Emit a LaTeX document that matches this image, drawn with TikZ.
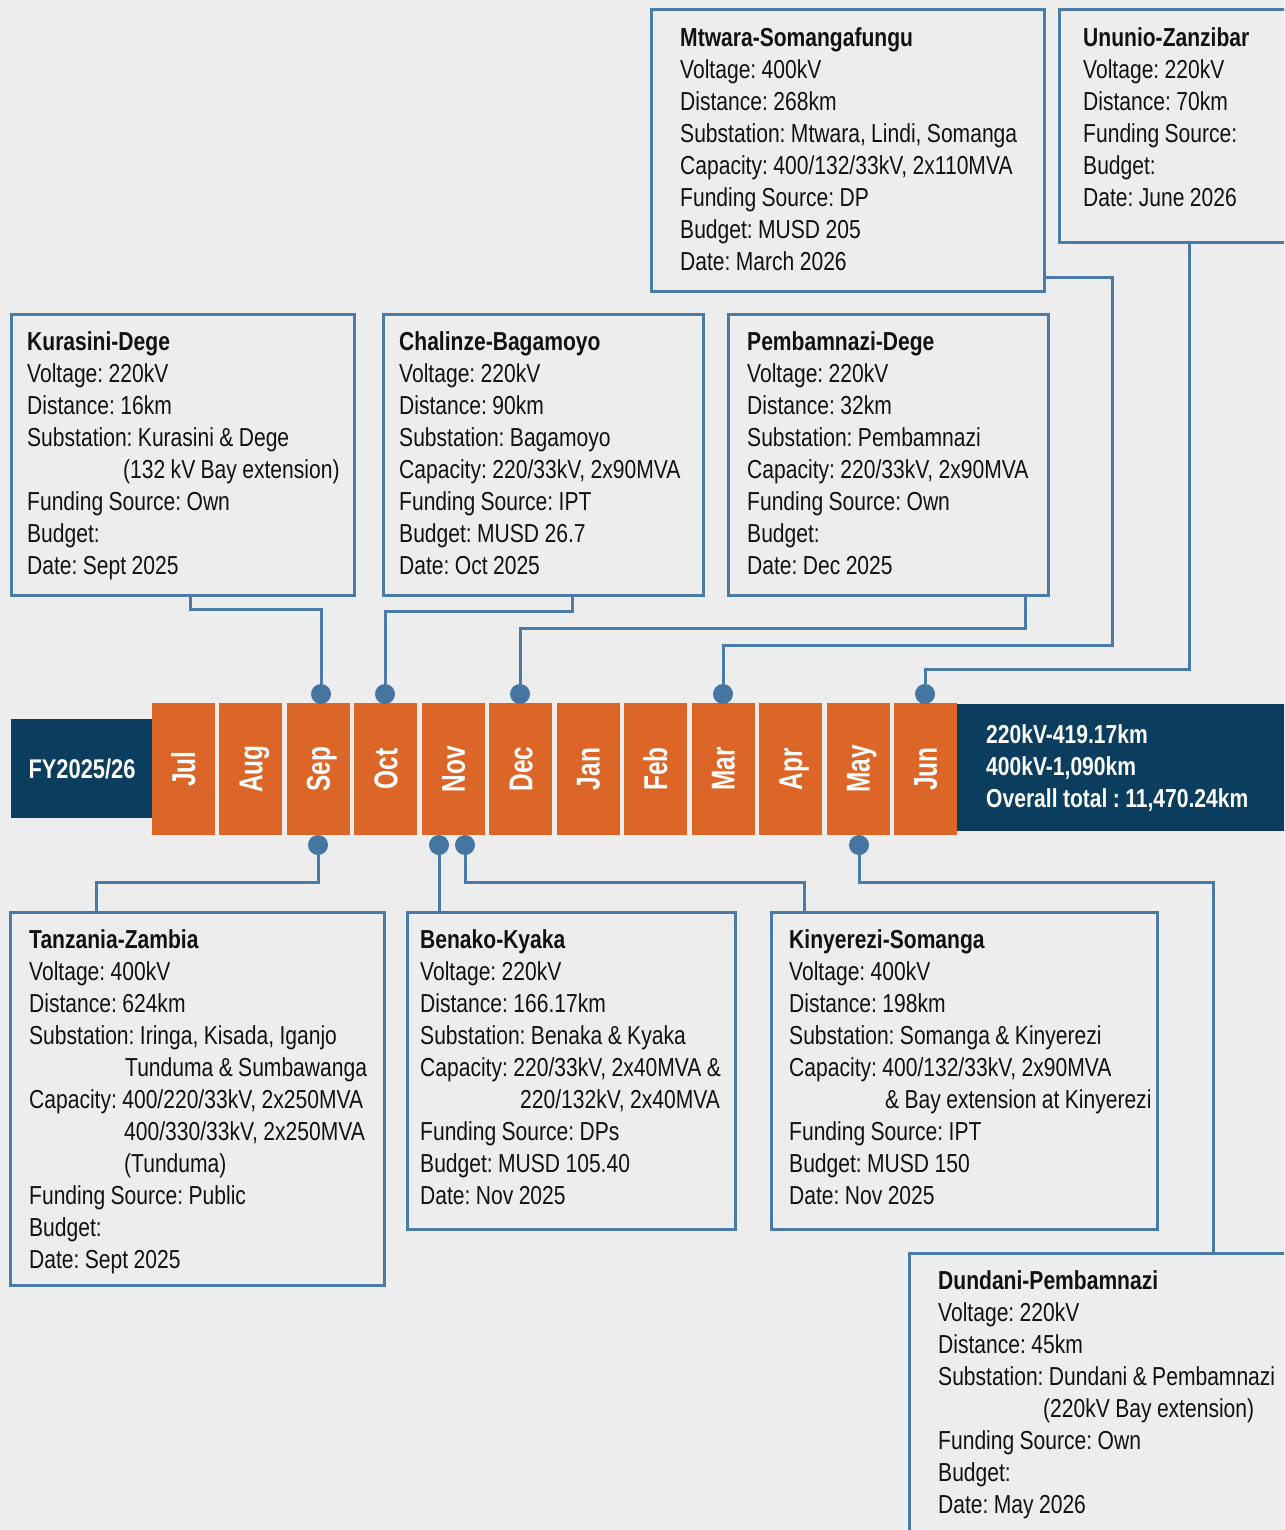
\documentclass[tikz,border=0pt]{standalone}
\usepackage{fontspec}
\setmainfont{Liberation Sans}[FakeStretch=0.81]
\newfontfamily\monthfont{Liberation Sans}[FakeStretch=0.74]
\usetikzlibrary{calc}
\definecolor{bgc}{HTML}{EDEDED}
\definecolor{linec}{HTML}{4A7BA7}
\definecolor{dotc}{HTML}{4576A2}
\definecolor{navyc}{HTML}{0B3D5E}
\definecolor{orc}{HTML}{DC6628}
\definecolor{txtc}{HTML}{111111}
\newcommand{\bodyfont}{\frenchspacing\fontsize{26}{32}\selectfont}
\newcommand{\narrowsp}{\spaceskip=5.4pt plus 1pt minus 1pt\relax\xspaceskip=5.4pt plus 1pt minus 1pt\relax}
\begin{document}
\begin{tikzpicture}[x=1pt,y=-1pt,
  box/.style={draw=linec, line width=3pt, fill=bgc, rectangle, inner sep=0pt, outer sep=0pt, anchor=north west},
  txt/.style={anchor=north west, inner sep=0pt, text width=420pt, align=left, text=txtc, font=\bodyfont, execute at begin node=\narrowsp},
  month/.style={fill=orc, minimum width=132pt, minimum height=63pt, inner sep=0pt, outer sep=0pt, rotate=90, text=white, text height=23pt, text depth=0pt, font=\monthfont\bfseries\fontsize{33}{33}\selectfont},
  dot/.style={circle, fill=dotc, minimum size=20pt, inner sep=0pt, outer sep=0pt},
  conn/.style={draw=linec, line width=3pt}]
\useasboundingbox (0,0) rectangle (1284,1530);
\begin{scope}
\clip (0,0) rectangle (1284,1530);
\fill[bgc] (0,0) rectangle (1284,1530);

% timeline
\node[fill=navyc, minimum width=142pt, minimum height=99pt, inner sep=0pt, outer sep=0pt, anchor=north west] (fy) at (11,719) {};
\node[text=white, font=\bfseries\fontsize{27}{27}\selectfont] (fyt) at (82,769) {FY2025/26};
\node[fill=navyc, minimum width=340pt, minimum height=127pt, inner sep=0pt, outer sep=0pt, anchor=north west] (tot) at (957,704) {};
\node[anchor=north west, inner sep=0pt, text width=320pt, align=left, text=white, font=\bodyfont\bfseries, execute at begin node=\narrowsp] (tott) at (986,720.6) {\strut 220kV-419.17km\\400kV-1,090km\\Overall total : 11,470.24km};

\node[month] (mJul) at (183.5,769) {Jul};
\node[month] (mAug) at (250.95,769) {Aug};
\node[month] (mSep) at (318.4,769) {Sep};
\node[month] (mOct) at (385.85,769) {Oct};
\node[month] (mNov) at (453.3,769) {Nov};
\node[month] (mDec) at (520.75,769) {Dec};
\node[month] (mJan) at (588.2,769) {Jan};
\node[month] (mFeb) at (655.65,769) {Feb};
\node[month] (mMar) at (723.1,769) {Mar};
\node[month] (mApr) at (790.55,769) {Apr};
\node[month] (mMay) at (858,769) {May};
\node[month] (mJun) at (925.45,769) {Jun};

% dots
\node[dot] (dSepT) at (321,694) {};
\node[dot] (dOct) at (385,694) {};
\node[dot] (dDec) at (520,694) {};
\node[dot] (dMar) at (723,694) {};
\node[dot] (dJun) at (925,694) {};
\node[dot] (dSepB) at (318,845) {};
\node[dot] (dNovA) at (439,845) {};
\node[dot] (dNovB) at (465,845) {};
\node[dot] (dMay) at (859,845) {};

% top boxes
\node[box, minimum width=343pt, minimum height=281pt] (kur) at (11,314) {};
\node[txt] (kurt) at (27,327.6) {\strut\textbf{Kurasini-Dege}\\Voltage: 220kV\\Distance: 16km\\Substation: Kurasini \& Dege\\\hspace*{96pt}(132 kV Bay extension)\\Funding Source: Own\\Budget:\\Date: Sept 2025};

\node[box, minimum width=320pt, minimum height=281pt] (cha) at (383,314) {};
\node[txt] (chat) at (399,327.6) {\strut\textbf{Chalinze-Bagamoyo}\\Voltage: 220kV\\Distance: 90km\\Substation: Bagamoyo\\Capacity: 220/33kV, 2x90MVA\\Funding Source: IPT\\Budget: MUSD 26.7\\Date: Oct 2025};

\node[box, minimum width=320pt, minimum height=281pt] (pem) at (728,314) {};
\node[txt] (pemt) at (747,327.6) {\strut\textbf{Pembamnazi-Dege}\\Voltage: 220kV\\Distance: 32km\\Substation: Pembamnazi\\Capacity: 220/33kV, 2x90MVA\\Funding Source: Own\\Budget:\\Date: Dec 2025};

\node[box, minimum width=393pt, minimum height=281pt] (mtw) at (651,10) {};
\node[txt] (mtwt) at (680,23.6) {\strut\textbf{Mtwara-Somangafungu}\\Voltage: 400kV\\Distance: 268km\\Substation: Mtwara, Lindi, Somanga\\Capacity: 400/132/33kV, 2x110MVA\\Funding Source: DP\\Budget: MUSD 205\\Date: March 2026};

\node[box, minimum width=240pt, minimum height=233pt] (unu) at (1059,10) {};
\node[txt] (unut) at (1083,24.1) {\strut\textbf{Ununio-Zanzibar}\\Voltage: 220kV\\Distance: 70km\\Funding Source:\\Budget:\\Date: June 2026};

% bottom boxes
\node[box, minimum width=374pt, minimum height=373pt] (tz) at (10,912) {};
\node[txt] (tzt) at (29,925.6) {\strut\textbf{Tanzania-Zambia}\\Voltage: 400kV\\Distance: 624km\\Substation: Iringa, Kisada, Iganjo\\\hspace*{96pt}Tunduma \& Sumbawanga\\Capacity: 400/220/33kV, 2x250MVA\\\hspace*{95pt}400/330/33kV, 2x250MVA\\\hspace*{95pt}(Tunduma)\\Funding Source: Public\\Budget:\\Date: Sept 2025};

\node[box, minimum width=328pt, minimum height=317pt] (bk) at (407,912) {};
\node[txt] (bkt) at (420,925.6) {\strut\textbf{Benako-Kyaka}\\Voltage: 220kV\\Distance: 166.17km\\Substation: Benaka \& Kyaka\\Capacity: 220/33kV, 2x40MVA \&\\\hspace*{100pt}220/132kV, 2x40MVA\\Funding Source: DPs\\Budget: MUSD 105.40\\Date: Nov 2025};

\node[box, minimum width=386pt, minimum height=317pt] (ky) at (771,912) {};
\node[txt] (kyt) at (789,925.6) {\strut\textbf{Kinyerezi-Somanga}\\Voltage: 400kV\\Distance: 198km\\Substation: Somanga \& Kinyerezi\\Capacity: 400/132/33kV, 2x90MVA\\\hspace*{96pt}\& Bay extension at Kinyerezi\\Funding Source: IPT\\Budget: MUSD 150\\Date: Nov 2025};

\node[box, minimum width=400pt, minimum height=300pt] (dp) at (909,1253) {};
\node[txt] (dpt) at (938,1266.6) {\strut\textbf{Dundani-Pembamnazi}\\Voltage: 220kV\\Distance: 45km\\Substation: Dundani \& Pembamnazi\\\hspace*{105pt}(220kV Bay extension)\\Funding Source: Own\\Budget:\\Date: May 2026};

% connectors top
\draw[conn] ([xshift=179pt]kur.south west) -- ++(0,14) -| (dSepT);
\draw[conn] ([xshift=189pt]cha.south west) -- ++(0,16) -| (dOct);
\draw[conn] ([xshift=297pt]pem.south west) -- ++(0,33) -| (dDec);
\draw[conn] ([yshift=14pt]mtw.south east) -- ++(68,0) -- ++(0,368) -| (dMar);
\draw[conn] ([xshift=130pt]unu.south west) -- ++(0,426) -| (dJun);
% connectors bottom
\draw[conn] (dSepB.south) -- ++(0,27) -| ([xshift=86pt]tz.north west);
\draw[conn] (dNovA.south) -- (dNovA.south |- bk.north);
\draw[conn] (dNovB.south) -- ++(0,27) -| ([xshift=33pt]ky.north west);
\draw[conn] (dMay.south) -- ++(0,27) -| ([xshift=304pt]dp.north west);
\end{scope}
\end{tikzpicture}
\end{document}
